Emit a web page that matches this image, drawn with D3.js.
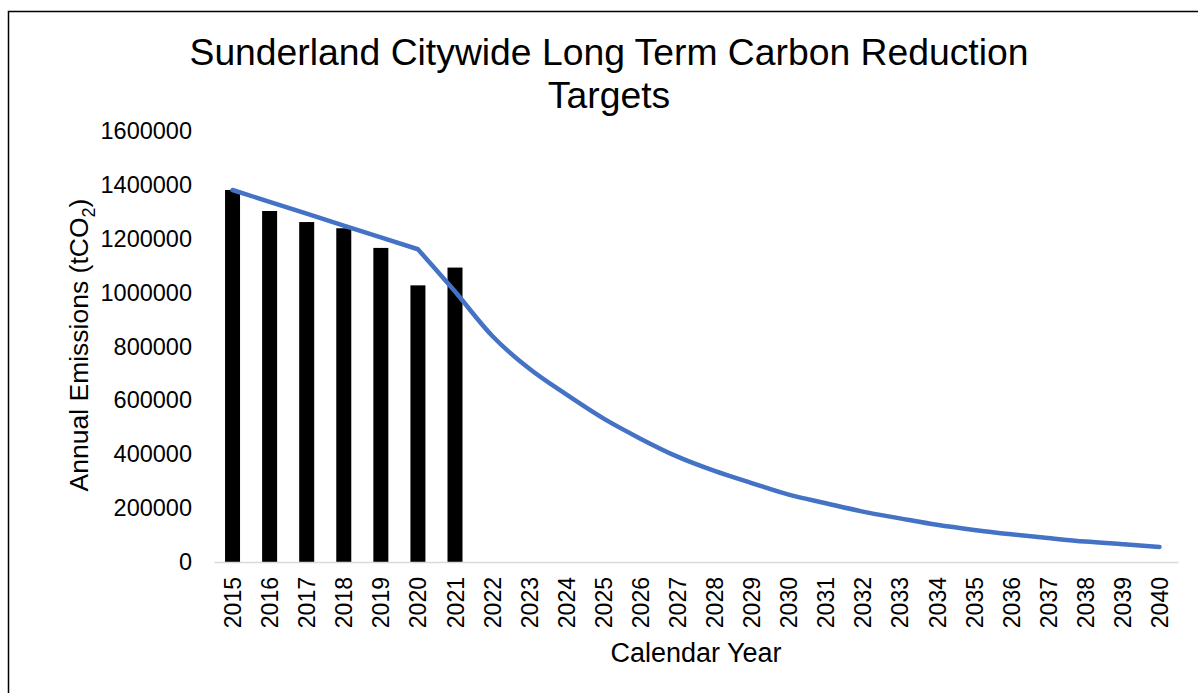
<!DOCTYPE html>
<html>
<head>
<meta charset="utf-8">
<script src="https://cdn.jsdelivr.net/npm/d3@7"></script>
<style>
  body { margin: 0; background: #fff; }
  svg text { font-family: "Liberation Sans", Arial, sans-serif; fill: #000; }
</style>
</head>
<body>
<script>
// years on the x axis
let years = d3.range(2015, 2041).map(String)

// actual emissions (bars), 2015-2021
let actualYears = ['2015', '2016', '2017', '2018', '2019', '2020', '2021']
let actualValues = [1381000, 1303000, 1262000, 1239000, 1166000, 1027000, 1093000]

// target pathway (line), 2015-2040
let targetValues = [
    1381000, 1337000, 1293000, 1249000, 1205000, 1161000,
    1004000, 840000, 718000, 622000, 533000, 458000, 391000,
    338000, 293000, 250000, 218000, 187000, 162000, 138000,
    119000, 103000, 89000, 76000, 66000, 56000
]

let yTicks = [0, 200000, 400000, 600000, 800000, 1000000, 1200000, 1400000, 1600000]

const W = 1198, H = 693
var margin = { top: 131, left: 214 },
    width = 1178 - margin.left,
    height = 562 - margin.top

var svg = d3.select('body').append('svg')
    .attr('width', W)
    .attr('height', H)

// chart frame (runs off right/bottom edge)
svg.append('rect')
    .attr('x', 8.5).attr('y', 11.5)
    .attr('width', 1210).attr('height', 720)
    .attr('fill', 'none').attr('stroke', '#000').attr('stroke-width', 1.5)

var g = svg.append('g')
    .attr('transform', 'translate(' + margin.left + ',' + margin.top + ')')

var x = d3.scaleBand()
    .domain(years)
    .range([0, width])

var y = d3.scaleLinear()
    .domain([0, 1600000])
    .range([height, 0])

// y axis labels only
var yAxis = d3.axisLeft(y)
    .tickValues(yTicks)
    .tickFormat(d3.format('d'))
    .tickSize(0)
    .tickPadding(22)

g.append('g')
    .attr('class', 'y axis')
    .call(yAxis)
    .call(a => a.select('.domain').remove())
    .selectAll('text')
    .style('font-size', '23.5px')

// bars
g.selectAll('rect.bar')
    .data(actualYears)
    .enter()
    .append('rect')
    .attr('class', 'bar')
    .attr('x', (d) => x(d) + x.bandwidth() / 2 - 7.5)
    .attr('y', (d, i) => y(actualValues[i]))
    .attr('width', 15)
    .attr('height', (d, i) => height - y(actualValues[i]))
    .attr('fill', '#000')

// x axis
var xAxis = d3.axisBottom(x).tickSize(0).tickPadding(0)

var xg = g.append('g')
    .attr('class', 'x axis')
    .attr('transform', 'translate(0,' + height + ')')
    .call(xAxis)

xg.select('.domain')
    .attr('stroke', '#d9d9d9')
    .attr('stroke-width', 1.5)

xg.selectAll('text')
    .style('font-size', '23px')
    .attr('text-anchor', 'end')
    .attr('transform', 'translate(8.5,15) rotate(-90)')
    .attr('dy', 0)
    .attr('y', 0)

// target line: straight to 2020, smoothed after
let pts = targetValues.map((v, i) => [x(years[i]) + x.bandwidth() / 2, y(v)])
let kink = years.indexOf('2020')

var straight = d3.line()
var smooth = d3.line().curve(d3.curveMonotoneX)

g.append('path')
    .attr('fill', 'none')
    .attr('stroke', '#4472C4')
    .attr('stroke-width', 4.5)
    .attr('stroke-linecap', 'round')
    .attr('stroke-linejoin', 'round')
    .attr('d', straight(pts.slice(0, kink + 1)) + 'L' + smooth(pts.slice(kink)).slice(1))

// title
var title = svg.append('text')
    .attr('text-anchor', 'middle')
    .style('font-size', '37.3px')
title.append('tspan').attr('x', 609).attr('y', 65).text('Sunderland Citywide Long Term Carbon Reduction')
title.append('tspan').attr('x', 609).attr('y', 108).text('Targets')

// axis titles
svg.append('text')
    .attr('x', 696)
    .attr('y', 662)
    .attr('text-anchor', 'middle')
    .style('font-size', '27px')
    .text('Calendar Year')

var yt = svg.append('text')
    .attr('transform', 'translate(88,' + 345 + ') rotate(-90)')
    .attr('text-anchor', 'middle')
    .style('font-size', '26.5px')
yt.append('tspan').text('Annual Emissions (tCO')
yt.append('tspan').attr('dy', 7).style('font-size', '18px').text('2')
yt.append('tspan').attr('dy', -7).text(')')
</script>
</body>
</html>
